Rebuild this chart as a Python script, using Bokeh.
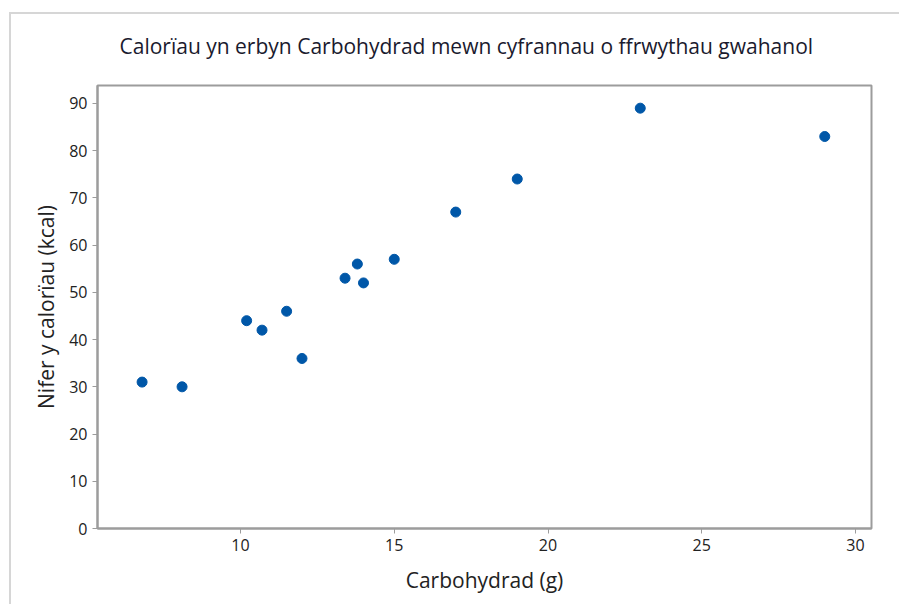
from bokeh.plotting import figure
from bokeh.models import Range1d, FixedTicker, Title
from bokeh.embed import file_html
from bokeh.resources import INLINE

# Data
carbs = [6.8, 8.1, 10.2, 10.7, 11.5, 12.0, 13.4, 13.8, 14.0, 15.0, 17.0, 19.0, 23.0, 29.0]
calories = [31, 30, 44, 42, 46, 36, 53, 56, 52, 57, 67, 74, 89, 83]
x_ticks = [10, 15, 20, 25, 30]
y_ticks = [0, 10, 20, 30, 40, 50, 60, 70, 80, 90]

title_text = "Calorïau yn erbyn Carbohydrad mewn cyfrannau o ffrwythau gwahanol"
x_label = "Carbohydrad (g)"
y_label = "Nifer y calorïau (kcal)"

FONT = "Open Sans"
TEXT = "#222222"
GRID = "#9c9c9c"

p = figure(width=891, height=604, output_backend="svg", toolbar_location=None,
           x_range=Range1d(5.35, 30.52), y_range=Range1d(0, 93.8),
           min_border_left=89, min_border_right=28, min_border_top=85, min_border_bottom=76,
           title=None)

t = Title(text=title_text, align="left", text_font=FONT, text_font_size="21px",
          text_font_style="normal", text_color="#1a1a2e", standoff=52, offset=22)
p.add_layout(t, "above")

p.scatter(carbs, calories, size=10, marker="circle", fill_color="#0057A8",
          line_color="#0057A8")

p.xgrid.visible = False
p.ygrid.visible = False
p.outline_line_color = GRID
p.outline_line_width = 2
p.background_fill_color = "white"
p.border_fill_alpha = 0

for ax, ticks, lab in ((p.xaxis[0], x_ticks, x_label), (p.yaxis[0], y_ticks, y_label)):
    ax.ticker = FixedTicker(ticks=ticks)
    ax.axis_label = lab
    ax.axis_label_text_font = FONT
    ax.axis_label_text_font_size = "21px"
    ax.axis_label_text_font_style = "normal"
    ax.axis_label_text_color = TEXT
    ax.major_label_text_font = FONT
    ax.major_label_text_font_size = "16px"
    ax.major_label_text_color = TEXT
    ax.axis_line_color = GRID
    ax.axis_line_width = 2
    ax.major_tick_line_color = GRID
    ax.major_tick_in = 0
    ax.major_tick_out = 5
    ax.minor_tick_line_color = None
    ax.major_label_standoff = 5

p.xaxis.axis_label_standoff = 12
p.yaxis.axis_label_standoff = 6

p.styles = {
    "margin-left": "8px",
    "margin-top": "0px",
    "background": ("linear-gradient(#d6d6d6,#d6d6d6) 1px 12px / 100% 2px no-repeat, "
                   "linear-gradient(#d6d6d6,#d6d6d6) 1px 12px / 2px 100% no-repeat, white"),
}

open("out.html", "w").write(file_html(p, INLINE))
